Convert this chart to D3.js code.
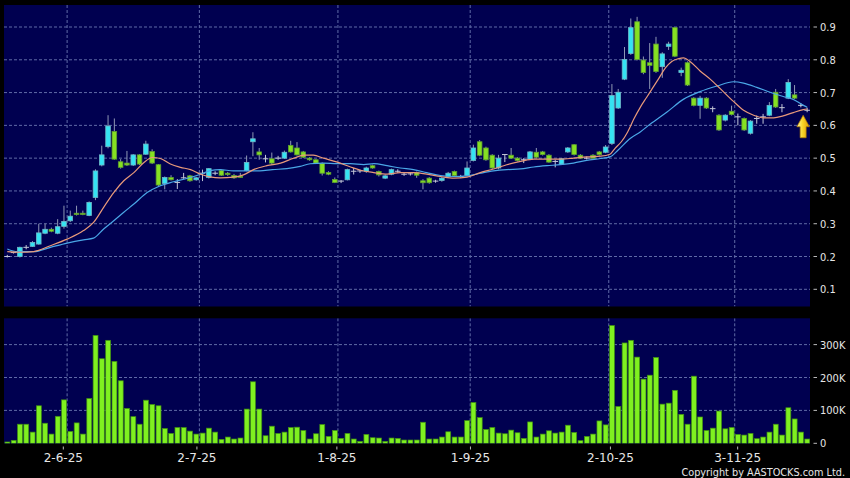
<!DOCTYPE html>
<html><head><meta charset="utf-8">
<script src="https://cdn.jsdelivr.net/npm/d3@7"></script>
<style>
html,body{margin:0;padding:0;background:#000;}
svg{display:block;}
</style></head>
<body>
<svg id="chart" width="850" height="478"></svg>
<script>
// ---------- DATA ----------
const opens = [.200,.212,.200,.228,.231,.238,.271,.283,.271,.292,.309,.332,.332,.325,.380,.479,.535,.581,.489,.485,
.479,.510,.512,.520,.480,.423,.441,.426,.440,.446,.434,.454,.441,.454,.462,.454,.447,.445,.462,.550,
.519,.498,.498,.500,.500,.539,.531,.519,.500,.495,.484,.456,.435,.430,.434,.460,.461,.460,.477,.459,
.439,.451,.460,.451,.452,.456,.431,.439,.430,.432,.444,.459,.444,.447,.493,.550,.531,.509,.470,.511,
.509,.500,.495,.497,.518,.519,.509,.490,.482,.519,.541,.509,.500,.509,.519,.518,.545,.653,.741,.819,
.916,.799,.791,.848,.779,.841,.898,.761,.791,.683,.661,.683,.651,.631,.616,.643,.626,.621,.576,.621,
.626,.631,.701,.654,.683,.693,.661,.646];
const highs = [.205,.215,.230,.235,.247,.300,.300,.288,.314,.355,.340,.355,.340,.368,.466,.538,.631,.621,.497,.522,
.512,.512,.553,.527,.482,.444,.448,.436,.455,.449,.443,.465,.470,.460,.465,.458,.452,.455,.508,.579,
.531,.510,.517,.507,.523,.553,.549,.522,.503,.497,.487,.460,.441,.433,.468,.470,.465,.474,.480,.462,
.450,.468,.466,.456,.457,.459,.436,.442,.434,.442,.458,.462,.449,.490,.541,.555,.535,.512,.510,.511,
.531,.503,.500,.522,.531,.522,.512,.495,.500,.534,.543,.512,.505,.512,.522,.540,.726,.711,.839,.926,
.931,.810,.851,.870,.823,.855,.900,.776,.795,.686,.690,.686,.658,.634,.634,.660,.636,.624,.616,.630,
.635,.671,.711,.665,.741,.723,.668,.654];
const lows = [.197,.209,.197,.222,.229,.236,.268,.274,.268,.285,.305,.325,.326,.323,.372,.475,.530,.495,.468,.476,
.476,.479,.510,.482,.415,.405,.432,.406,.437,.428,.431,.430,.438,.448,.446,.446,.437,.440,.460,.506,
.495,.487,.480,.495,.498,.517,.508,.500,.492,.482,.447,.448,.424,.424,.432,.450,.455,.455,.468,.444,
.436,.448,.455,.446,.447,.440,.405,.422,.425,.428,.440,.445,.440,.445,.490,.506,.492,.467,.466,.488,
.498,.490,.485,.495,.500,.508,.486,.472,.480,.516,.508,.498,.496,.498,.508,.515,.540,.650,.738,.815,
.798,.756,.711,.760,.745,.830,.808,.750,.720,.658,.620,.650,.640,.583,.612,.630,.600,.583,.572,.605,
.605,.628,.653,.640,.680,.680,.655,.640];
const closes = [.200,.212,.228,.228,.243,.272,.283,.277,.291,.307,.323,.328,.328,.365,.461,.510,.598,.497,.472,.479,
.510,.482,.543,.485,.418,.441,.434,.426,.440,.431,.440,.454,.468,.454,.448,.450,.440,.442,.487,.559,
.510,.498,.485,.500,.518,.519,.510,.503,.495,.485,.454,.451,.426,.430,.465,.460,.461,.470,.470,.449,
.446,.465,.460,.451,.452,.448,.425,.425,.430,.439,.454,.447,.444,.470,.531,.509,.495,.470,.500,.511,
.500,.493,.495,.519,.503,.511,.488,.490,.498,.531,.511,.500,.500,.500,.511,.534,.691,.701,.801,.898,
.801,.761,.783,.764,.818,.848,.811,.768,.723,.661,.683,.653,.651,.586,.631,.633,.626,.586,.613,.621,
.626,.661,.656,.654,.731,.683,.661,.646];
const volumes = [4000,9000,58000,58000,34000,114000,61000,28000,82000,132000,36000,62000,28000,136000,328000,257000,313000,249000,190000,106000,
81000,58000,131000,118000,114000,45000,30000,48000,48000,37000,28000,31000,46000,34000,12000,19000,13000,16000,104000,187000,
104000,23000,52000,30000,34000,48000,49000,39000,13000,29000,57000,21000,39000,15000,30000,13000,6000,27000,17000,16000,
6000,16000,15000,10000,10000,10000,64000,13000,13000,19000,35000,19000,19000,69000,124000,78000,42000,48000,31000,29000,
40000,32000,15000,65000,19000,28000,38000,31000,34000,55000,33000,8000,21000,28000,68000,56000,358000,112000,305000,313000,
262000,195000,207000,261000,119000,122000,161000,88000,58000,204000,80000,39000,46000,98000,44000,48000,27000,25000,30000,14000,
19000,34000,58000,25000,108000,74000,34000,13000];
// moving averages: [bar index, value]
const maShort = [[0,.215],[2.1,.213],[4.2,.215],[6.85,.233],[9.5,.253],[12.1,.279],[13.7,.304],[15.3,.35],[16.9,.395],[18.5,.431],
[20.1,.456],[21.7,.487],[23,.502],[24.3,.499],[25.9,.482],[27.5,.472],[29.1,.465],[30.7,.451],[32.2,.443],[33.8,.44],
[35.9,.442],[37.5,.449],[39.1,.465],[41.2,.477],[43.4,.485],[45.5,.5],[47.1,.509],[48.6,.509],[50.2,.5],[52.4,.488],
[54.5,.473],[56.1,.463],[58.2,.456],[60.3,.451],[62.4,.456],[64.5,.456],[66.6,.451],[68.8,.444],[70.9,.439],[73,.442],
[75.1,.456],[77.2,.467],[79.3,.48],[81.5,.49],[83.6,.497],[87.8,.497],[89.9,.5],[92,.504],[94.2,.506],[95.7,.512],
[96.5,.53],[97.5,.55],[98.5,.58],[99.5,.62],[100.5,.655],[101.5,.685],[102.5,.715],[103.5,.745],[104.5,.775],[105.5,.795],
[106.5,.803],[107.4,.806],[108.4,.795],[110,.766],[111.6,.741],[113.2,.712],[115.3,.673],[116.9,.646],[118.5,.631],[120.1,.623],
[121.7,.623],[123.2,.629],[124.8,.639],[126.4,.648],[127,.65]];
const maLong = [[0,.223],[1.6,.215],[4.2,.215],[6.85,.228],[9.5,.241],[12.1,.251],[13.7,.256],[15.3,.284],[16.9,.309],[18.5,.335],
[20.1,.36],[22.2,.395],[24.3,.416],[26.4,.428],[28.5,.438],[30.7,.451],[32.2,.462],[33.8,.465],[35.9,.461],[40.1,.461],
[42.1,.465],[44.4,.468],[46.5,.475],[48.1,.483],[50.2,.485],[52.4,.483],[54.5,.483],[56.6,.48],[58.2,.483],[60.3,.477],
[62.4,.47],[64.5,.465],[66.6,.456],[68.8,.447],[70.9,.444],[73,.446],[75.1,.454],[77.2,.461],[79.3,.465],[81.5,.467],
[83.6,.473],[85.7,.477],[87.8,.48],[89.9,.485],[92,.493],[94.2,.499],[95.7,.504],[97,.525],[98.9,.56],[100.5,.58],
[102.1,.604],[104.7,.64],[107.4,.68],[110,.703],[112.7,.72],[115.3,.733],[116.9,.729],[119,.716],[121.1,.701],[123.2,.688],
[124.8,.679],[126.4,.661],[127,.655]];
const priceTicks = [0.1,0.2,0.3,0.4,0.5,0.6,0.7,0.8,0.9];
const volTicks = [0,100000,200000,300000];
const volTickLabels = ["0","100K","200K","300K"];
const monthIdx = [10,31,53,74,96,116];
const monthLabels = ["2-6-25","2-7-25","1-8-25","1-9-25","2-10-25","3-11-25"];

// ---------- CHART ----------
const svg = d3.select("#chart");
const N = closes.length;
const L = 4.13, R = 810.3;
const x = d3.scaleBand().domain(d3.range(N)).range([L, R]);
const bw = x.bandwidth();
const xc = i => x(i) + bw/2;
const xf = d3.scaleLinear().domain([0, N]).range([L, R]);
const xt = d3.scaleLinear().domain([0, N]).range([-0.3, 814]);
const y = d3.scaleLinear().domain([0.1, 0.9]).range([289.3, 27]);
const yv = d3.scaleLinear().domain([0, 300000]).range([443.3, 344.6]);

const P = {top:5, bottom:306.5}, V = {top:318.3, bottom:443.6};
const NAVY = "#000050", GRID = "#5f6aa6";

const defs = svg.append("defs");
defs.append("clipPath").attr("id","cp").append("rect").attr("x",4).attr("y",P.top).attr("width",806).attr("height",P.bottom-P.top);
defs.append("clipPath").attr("id","cv").append("rect").attr("x",4).attr("y",V.top).attr("width",806).attr("height",V.bottom-V.top);
const grad = defs.append("linearGradient").attr("id","arrowG").attr("x1","0").attr("x2","1").attr("y1","0").attr("y2","0");
grad.append("stop").attr("offset","0").attr("stop-color","#fff5a0");
grad.append("stop").attr("offset","0.45").attr("stop-color","#f9d52a");
grad.append("stop").attr("offset","1").attr("stop-color","#e09a00");

svg.append("rect").attr("width",850).attr("height",478).attr("fill","#000");
svg.append("rect").attr("x",4).attr("y",P.top).attr("width",806).attr("height",P.bottom-P.top).attr("fill",NAVY);
svg.append("rect").attr("x",4).attr("y",V.top).attr("width",806).attr("height",V.bottom-V.top).attr("fill",NAVY);

// grids
const gP = svg.append("g").attr("clip-path","url(#cp)");
const gV = svg.append("g").attr("clip-path","url(#cv)");
gP.selectAll("line.h").data(priceTicks).join("line")
  .attr("x1",4).attr("x2",810).attr("y1",d=>y(d)).attr("y2",d=>y(d))
  .attr("stroke",GRID).attr("stroke-width",1).attr("stroke-dasharray","3,2");
gP.selectAll("line.v").data(monthIdx).join("line").attr("class","v")
  .attr("x1",d=>x(d)).attr("x2",d=>x(d)).attr("y1",P.top).attr("y2",P.bottom)
  .attr("stroke",GRID).attr("stroke-width",1).attr("stroke-dasharray","3,2");
gV.selectAll("line.h").data(volTicks.slice(1)).join("line").attr("class","h")
  .attr("x1",4).attr("x2",810).attr("y1",d=>yv(d)).attr("y2",d=>yv(d))
  .attr("stroke",GRID).attr("stroke-width",1).attr("stroke-dasharray","3,2");
gV.selectAll("line.v").data(monthIdx).join("line").attr("class","v")
  .attr("x1",d=>x(d)).attr("x2",d=>x(d)).attr("y1",V.top).attr("y2",V.bottom)
  .attr("stroke",GRID).attr("stroke-width",1).attr("stroke-dasharray","3,2");

// volume bars
gV.selectAll("rect.vb").data(volumes).join("rect").attr("class","vb")
  .attr("x",(d,i)=>x(i)+0.8).attr("width",bw-1.4)
  .attr("y",d=>yv(d)).attr("height",d=>Math.max(0.5,yv(0)-yv(d)))
  .attr("fill","#7ff020").attr("stroke","#3f8f12").attr("stroke-width",0.7);

// candles
const idx = d3.range(N);
const cg = gP.append("g");
cg.selectAll("line.w").data(idx).join("line").attr("class","w")
  .attr("x1",i=>xc(i)).attr("x2",i=>xc(i))
  .attr("y1",i=>y(highs[i])).attr("y2",i=>y(lows[i]))
  .attr("stroke",i=>opens[i]===closes[i]?"#c4c8d8":"#8f98b4").attr("stroke-width",1);
cg.selectAll("line.d").data(idx.filter(i=>opens[i]===closes[i])).join("line").attr("class","d")
  .attr("x1",i=>xc(i)-2.8).attr("x2",i=>xc(i)+2.8)
  .attr("y1",i=>y(closes[i])).attr("y2",i=>y(closes[i]))
  .attr("stroke","#c4c8d8").attr("stroke-width",1);
cg.selectAll("rect.b").data(idx.filter(i=>opens[i]!==closes[i])).join("rect").attr("class","b")
  .attr("x",i=>xc(i)-2.3).attr("width",4.6)
  .attr("y",i=>y(Math.max(opens[i],closes[i])))
  .attr("height",i=>Math.max(1.2,Math.abs(y(opens[i])-y(closes[i]))))
  .attr("fill",i=>closes[i]>opens[i]?"#35e3f3":"#86e022")
  .attr("stroke",i=>closes[i]>opens[i]?"#6fb8c8":"#5e9e30").attr("stroke-width",0.8);

// moving averages
const line = d3.line().x(d=>xf(d[0]+0.5)).y(d=>y(d[1])).curve(d3.curveMonotoneX);
gP.append("path").datum(maLong).attr("d",line).attr("fill","none").attr("stroke","#4aa6e6").attr("stroke-width",1.2);
gP.append("path").datum(maShort).attr("d",line).attr("fill","none").attr("stroke","#e8997a").attr("stroke-width",1.2);

// arrow under last bar
const ax = xc(N-1) - 4, ay = y(lows[N-1]) + 3;
svg.append("path").attr("transform",`translate(${ax},${ay})`)
  .attr("d","M0,0 L6.3,11.5 L3,11.5 L3,22.5 L-3,22.5 L-3,11.5 L-6.3,11.5 Z")
  .attr("fill","url(#arrowG)").attr("stroke","#b27a00").attr("stroke-width",0.7).attr("stroke-linejoin","round");

// right axes
const FONT_C = "'DejaVu Sans Condensed','DejaVu Sans',sans-serif";
const TXT = "#e6e6e6";
svg.selectAll("line.pt").data(priceTicks).join("line").attr("class","pt")
  .attr("x1",813.5).attr("x2",817).attr("y1",d=>y(d)).attr("y2",d=>y(d)).attr("stroke","#bbbbbb");
svg.selectAll("text.pt").data(priceTicks).join("text").attr("class","pt")
  .attr("x",820).attr("y",d=>y(d)+4).text(d=>d.toFixed(1))
  .attr("font-family",FONT_C).attr("font-size",11).attr("fill",TXT);
svg.selectAll("line.vt").data(volTicks).join("line").attr("class","vt")
  .attr("x1",813.5).attr("x2",817).attr("y1",d=>yv(d)).attr("y2",d=>yv(d)).attr("stroke","#bbbbbb");
svg.selectAll("text.vt").data(volTicks).join("text").attr("class","vt")
  .attr("x",820).attr("y",d=>yv(d)+4).text((d,i)=>volTickLabels[i])
  .attr("font-family",FONT_C).attr("font-size",11).attr("fill",TXT);

// bottom date axis
svg.selectAll("line.mt").data(monthIdx).join("line").attr("class","mt")
  .attr("x1",d=>xt(d)).attr("x2",d=>xt(d)).attr("y1",446.5).attr("y2",449.5).attr("stroke","#bbbbbb");
svg.selectAll("text.mt").data(monthIdx).join("text").attr("class","mt")
  .attr("x",d=>xt(d)).attr("y",462).attr("text-anchor","middle").text((d,i)=>monthLabels[i])
  .attr("font-family","'DejaVu Sans',sans-serif").attr("font-size",12).attr("fill",TXT);

svg.append("text").attr("x",845).attr("y",476).attr("text-anchor","end")
  .attr("font-family",FONT_C).attr("font-size",10.8).attr("fill",TXT)
  .text("Copyright by AASTOCKS.com Ltd.");
</script>
</body></html>
